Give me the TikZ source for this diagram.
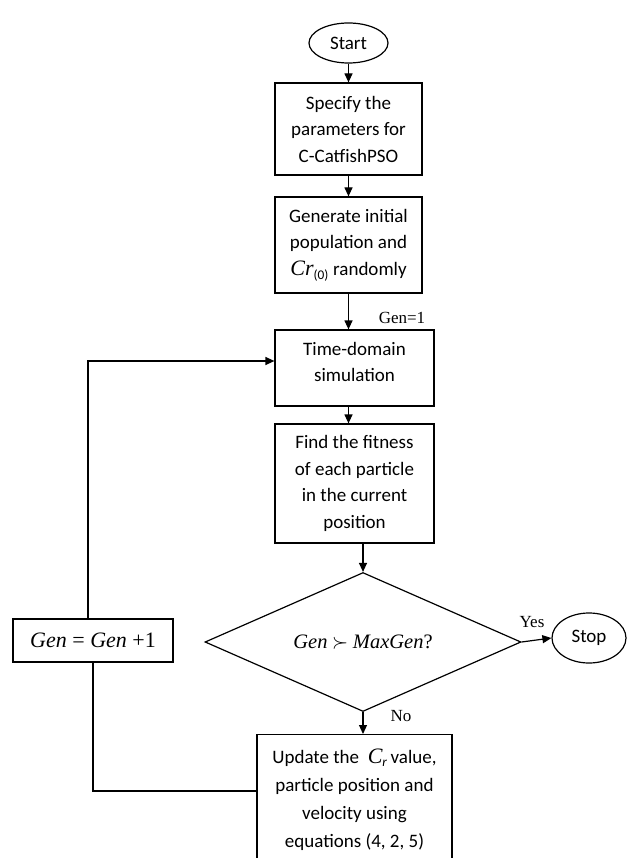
\documentclass[tikz,border=0pt]{standalone}
\usepackage{fontspec}
\setmainfont{Carlito}
\newfontfamily\tnr{Liberation Serif}
\usetikzlibrary{shapes.geometric,arrows.meta}
\tikzset{
  line/.style={draw=black,line width=1.2pt},
  arr/.style={line,-{Triangle[length=9pt,width=8pt]}},
  procbox/.style={line,rectangle,inner sep=0pt,align=center,font=\fontsize{19}{26.5}\selectfont},
  boxtext/.style={inner sep=0pt,align=center,font=\fontsize{19}{26.5}\selectfont},
  term/.style={line,ellipse,inner sep=0pt,font=\fontsize{19}{23}\selectfont},
  decision/.style={line,diamond,inner sep=0pt,font=\fontsize{20.5}{24}\selectfont},
  lbl/.style={font=\tnr\fontsize{17}{20}\selectfont,inner sep=0pt}
}
\begin{document}
\begin{tikzpicture}[x=1pt,y=-1pt]
\useasboundingbox (0,0) rectangle (629,858);
\clip (0,0) rectangle (629,858);
\node[term,minimum width=79pt,minimum height=40pt] (start) at (348.5,43) {Start};
\node[procbox,minimum width=147pt,minimum height=92pt] (spec) at (348.5,129) {Specify the\\parameters for\\C-CatfishPSO};
\node[procbox,minimum width=147pt,minimum height=96pt] (gen) at (348.5,245) {Generate initial\\population and\\{\tnr\itshape\fontsize{22}{22}\selectfont Cr}\textsubscript{(0)} randomly};
\node[procbox,minimum width=159pt,minimum height=76pt] (time) at (354.5,368) {};
\node[boxtext] (timetext) at (354.5,362) {Time-domain\\simulation};
\node[procbox,minimum width=159pt,minimum height=119pt] (fit) at (354.5,483.5) {Find the fitness\\of each particle\\in the current\\position};
\node[decision,minimum width=316pt,minimum height=139pt,aspect=2.27] (dec) at (363,642) {{\tnr\itshape Gen} $\succ$ {\tnr\itshape MaxGen}{\tnr ?}};
\node[term,minimum width=74pt,minimum height=50pt] (stop) at (589,638) {Stop};
\node[procbox,minimum width=160pt,minimum height=43pt,font=\tnr\fontsize{22}{24}\selectfont] (inc) at (93,640.5) {\textit{Gen} = \textit{Gen} +1};
\node[procbox,minimum width=195pt,minimum height=140pt,anchor=north] (upd) at (354.5,734) {};
\node[boxtext,font=\fontsize{19}{28}\selectfont] (updtext) at (354.5,800) {Update the \ {\tnr\itshape\fontsize{22}{22}\selectfont C}\textsubscript{\itshape r}\,value,\\particle position and\\velocity using\\equations (4, 2, 5)};
\draw[arr] (start) -- (spec);
\draw[arr] (spec) -- (gen);
\draw[arr] (gen.south) -- (gen.south |- time.north);
\draw[arr] (gen.south |- time.south) -- (gen.south |- fit.north);
\draw[arr] (dec.north |- fit.south) -- (dec.north);
\draw[arr] (dec.south) -- (dec.south |- upd.north);
\draw[arr] (dec.east) -- (stop.west);
\draw[arr] ([xshift=-5pt]inc.north) |- ([yshift=7pt]time.west);
\draw[line] (inc.south) |- ([yshift=-57pt]upd.north west);
\node[lbl] (g1) at (402,318) {Gen=1};
\node[lbl] (yes) at (532,622) {Yes};
\node[lbl] (no) at (401,716) {No};
\end{tikzpicture}
\end{document}
